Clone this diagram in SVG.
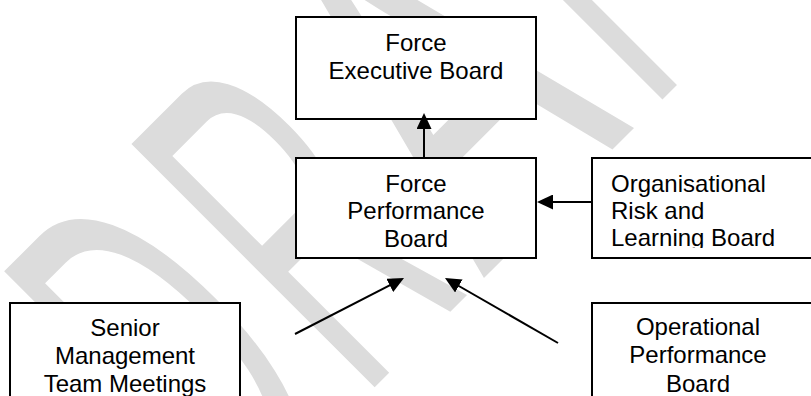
<svg xmlns="http://www.w3.org/2000/svg" width="811" height="396" viewBox="0 0 811 396">
<style>
  .box{fill:#ffffff;stroke:#000000;stroke-width:2}
  .t{font-family:"Liberation Sans",Arial,sans-serif;font-size:24px;fill:#000000}
  .c{text-anchor:middle}
  .wm{font-family:"Liberation Sans",Arial,sans-serif;font-size:100px;fill:#dcdcdc}
  #connectors line{stroke:#000000;stroke-width:2;marker-end:url(#ah)}
</style>
<defs>
  <marker id="ah" viewBox="0 0 16 15" markerWidth="16" markerHeight="15" refX="8" refY="7.5" orient="auto" markerUnits="userSpaceOnUse">
    <path d="M0,0 L16,7.5 L0,15 z" fill="#000000"/>
  </marker>
  <clipPath id="clipOrg"><rect x="592" y="158" width="240" height="90"/></clipPath>
</defs>
<rect width="811" height="396" fill="#ffffff"/>
<g id="watermark" transform="translate(381,381) rotate(-45)">
  <text class="wm" transform="translate(-207,0) scale(2.2,5)">D</text>
  <text class="wm" transform="translate(-27,0) scale(2.2,5)">R</text>
  <text class="wm" transform="translate(145,0) scale(3.2,5)">A</text>
  <text class="wm" transform="translate(380,0) scale(2.2,5)">F</text>
  <text class="wm" transform="translate(514,0) scale(2.2,5)">T</text>
</g>
<g id="exec">
  <rect class="box" x="296" y="17" width="240" height="102"/>
  <text class="t c" x="416" y="51">Force</text>
  <text class="t c" x="416" y="78.5">Executive Board</text>
</g>
<g id="perf">
  <rect class="box" x="296" y="158" width="240" height="100"/>
  <text class="t c" x="416" y="191.5">Force</text>
  <text class="t c" x="416" y="219">Performance</text>
  <text class="t c" x="416" y="246.5">Board</text>
</g>
<g id="org">
  <rect class="box" x="592" y="158" width="240" height="100"/>
  <g clip-path="url(#clipOrg)">
    <text class="t" x="611" y="192">Organisational</text>
    <text class="t" x="611" y="219">Risk and</text>
    <text class="t" x="611" y="246">Learning Board</text>
  </g>
</g>
<g id="senior">
  <rect class="box" x="10" y="303" width="230" height="100"/>
  <text class="t c" x="125" y="336">Senior</text>
  <text class="t c" x="125" y="364">Management</text>
  <text class="t c" x="125" y="392">Team Meetings</text>
</g>
<g id="oper">
  <rect class="box" x="592" y="303" width="240" height="100"/>
  <text class="t c" x="698" y="335">Operational</text>
  <text class="t c" x="698" y="363">Performance</text>
  <text class="t c" x="698" y="392">Board</text>
</g>
<g id="connectors">
  <line x1="424" y1="158" x2="424" y2="121"/>
  <line x1="592" y1="202" x2="545" y2="202"/>
  <line x1="295" y1="334" x2="396.9" y2="281.7"/>
  <line x1="558" y1="343" x2="451.9" y2="282"/>
</g>
</svg>
